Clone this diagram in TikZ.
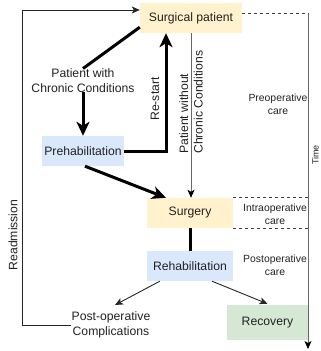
\documentclass[tikz,border=0pt]{standalone}
\usepackage{fontspec}
\setmainfont{Liberation Sans}
\usetikzlibrary{arrows.meta}
\definecolor{yel}{HTML}{FFF2CC}
\definecolor{blu}{HTML}{DAE8FC}
\definecolor{grn}{HTML}{D5E8D4}
\definecolor{txt}{HTML}{222222}
\begin{document}
\begin{tikzpicture}[x=1pt,y=-1pt,
  mainfont/.style={font=\fontsize{12.2}{14.6}\selectfont},
  smallfont/.style={font=\fontsize{10.4}{13}\selectfont},
  box/.style={mainfont, inner sep=0pt, minimum height=30pt, text=txt},
  lbl/.style={mainfont, inner sep=0pt, align=center, text=txt},
  carelbl/.style={smallfont, inner sep=0pt, align=center, text=txt},
  thickarrow/.style={line width=3pt, -{Stealth[length=14pt,width=13pt,inset=4pt]}},
  thickline/.style={line width=3pt},
  thinarrow/.style={line width=0.9pt, black!85, -{Stealth[length=8pt,width=7pt,inset=2pt]}},
  greyarrow/.style={line width=0.9pt, black!60, -{Stealth[length=8pt,width=7pt,inset=2pt,black]}},
  dashline/.style={line width=0.9pt, black!75, dash pattern=on 3pt off 3pt}
]
\useasboundingbox (0,0) rectangle (321,351);

% boxes
\node[box, fill=yel, minimum width=102pt] (sp) at (191,18) {Surgical patient};
\node[box, fill=blu, minimum width=82pt] (prehab) at (83,151) {Prehabilitation};
\node[box, fill=yel, minimum width=86pt] (surg) at (190,213) {Surgery};
\node[box, fill=blu, minimum width=86pt] (rehab) at (190,266) {Rehabilitation};
\node[box, fill=grn, minimum width=81pt, minimum height=35pt] (rec) at (267.5,322.5) {Recovery};

% labels
\node[lbl] (pwc) at (83,80.5) {Patient with\\Chronic Conditions};
\node[lbl] (poc) at (111,325) {Post-operative\\Complications};
\node[carelbl] (pre) at (278,104.5) {Preoperative\\care};
\node[carelbl] (intra) at (275,214) {Intraoperative\\care};
\node[carelbl] (post) at (275,265.5) {Postoperative\\care};
\node[carelbl, font=\fontsize{9}{11}\selectfont, rotate=90] (time) at (315.5,155) {Time};
\node[lbl, rotate=90] (readm) at (13,235) {Readmission};
\node[lbl, rotate=90] (restart) at (155,99) {Re-start};

% coordinates
\coordinate (ta) at (308,13);
\coordinate (tb) at (308,349);
\coordinate (rl) at (22,10);
\coordinate (pocend) at (115,305);

% time axis and dashed lines
\draw[greyarrow] (ta) -- (tb);
\draw[dashline] ([yshift=5pt]sp.east) -- (ta);
\draw[dashline] (surg.north east) -- (surg.north east -| ta);
\draw[dashline] (surg.south east) -- (surg.south east -| ta);

% without chronic conditions
\draw[greyarrow] (sp.south) -- (sp.south |- surg.north);
\node[lbl, rotate=90, anchor=west, align=left] (pwo) at (191,154) {Patient without\\Chronic Conditions};

% thick connectors
\draw[thickline] (pwc.north) -- ([yshift=6pt]sp.south west);
\draw[thickarrow] (pwc.south) -- (prehab.north);
\draw[thickarrow] (prehab.east) -| ([xshift=-25pt]sp.south);
\draw[thickarrow] ([xshift=2pt]prehab.south) -- ([xshift=-24pt]surg.north);
\draw[thickline] (surg.south) -- (rehab.north);

% thin connectors
\draw[thinarrow] ([xshift=13pt]rehab.south west) -- (pocend);
\draw[thinarrow] ([xshift=22pt]rehab.south) -- ([yshift=1pt]rec.north);
\draw[thinarrow] (poc.west) -| (rl) -- (rl -| sp.west);
\end{tikzpicture}
\end{document}
